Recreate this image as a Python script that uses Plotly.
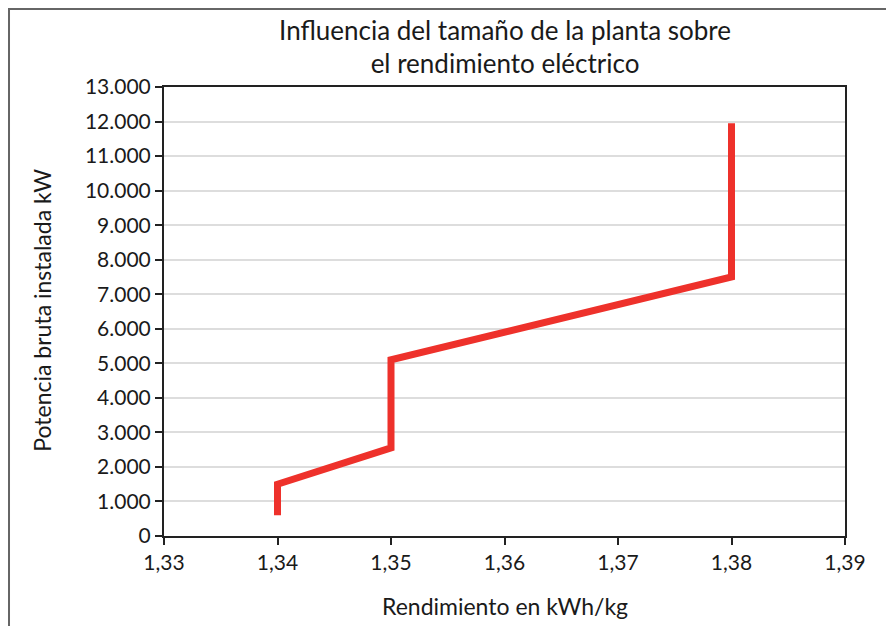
import plotly.graph_objects as go

# Rendimiento (kWh/kg) vs potencia bruta instalada (kW)
rendimiento = [1.34, 1.34, 1.35, 1.35, 1.38, 1.38]
potencia = [600, 1500, 2550, 5100, 7500, 11950]

x_ticks = [1.33, 1.34, 1.35, 1.36, 1.37, 1.38, 1.39]
y_ticks = list(range(0, 13001, 1000))

font_main = "Lato, Open Sans, DejaVu Sans, sans-serif"

fig = go.Figure()
fig.add_trace(go.Scatter(
    x=rendimiento,
    y=potencia,
    mode="lines",
    line=dict(color="#EE312B", width=7),
    showlegend=False,
    hoverinfo="skip",
))

fig.update_layout(
    width=886,
    height=618,
    paper_bgcolor="white",
    plot_bgcolor="white",
    separators=",.",
    font=dict(family=font_main, size=21, color="#1a1a1a"),
    margin=dict(l=156, r=49, t=79, b=90),
    title=dict(
        text="Influencia del tamaño de la planta sobre<br>el rendimiento eléctrico",
        x=0.561, xanchor="center",
        y=0.949, yanchor="middle",
        font=dict(family=font_main, size=26, color="#1a1a1a"),
    ),
    xaxis=dict(
        range=[1.33, 1.39],
        tickvals=x_ticks,
        tickformat=".2f",
        ticks="outside",
        ticklen=7,
        tickwidth=2,
        tickcolor="#222222",
        showline=True,
        linecolor="#222222",
        linewidth=2,
        mirror=True,
        showgrid=False,
        zeroline=False,
    ),
    yaxis=dict(
        range=[0, 13000],
        tickvals=y_ticks,
        tickformat=",d",
        ticks="outside",
        ticklen=7,
        tickwidth=2,
        tickcolor="#222222",
        showline=True,
        linecolor="#222222",
        linewidth=2,
        mirror=True,
        showgrid=True,
        gridcolor="#DDDDDD",
        gridwidth=2,
        zeroline=False,
    ),
    annotations=[
        dict(text="Rendimiento en kWh/kg", xref="paper", yref="paper",
             x=0.5, y=-0.155, xanchor="center", yanchor="middle",
             showarrow=False, font=dict(size=23)),
        dict(text="Potencia bruta instalada kW", xref="paper", yref="paper",
             x=-0.179, y=0.502, xanchor="center", yanchor="middle",
             textangle=-90, showarrow=False, font=dict(size=23)),
    ],
    shapes=[
        dict(type="rect", xref="paper", yref="paper",
             x0=-0.2276, x1=1.0705, y0=-0.4, y1=1.1737,
             line=dict(color="#666666", width=2), layer="below"),
    ],
)

fig.write_html("out.html")
